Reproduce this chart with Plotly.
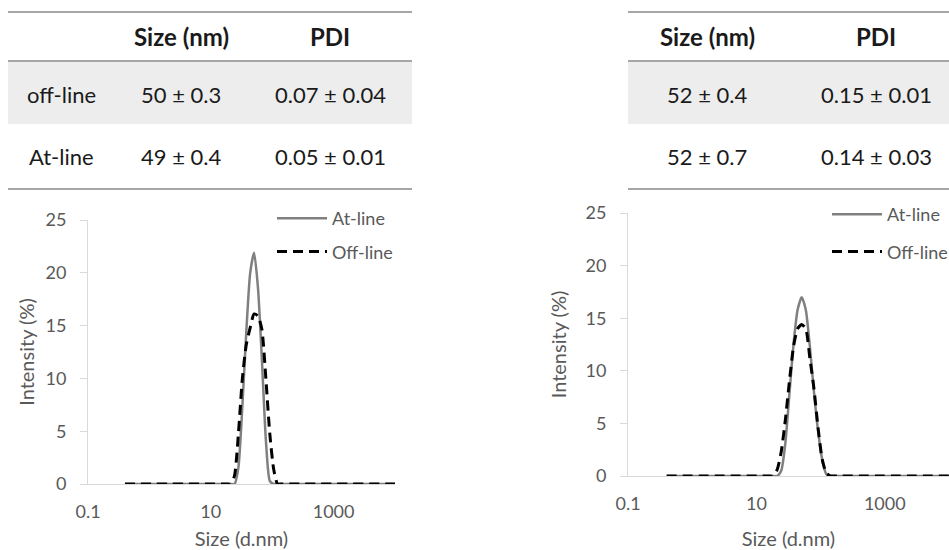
import plotly.graph_objects as go

# ---------------- data ----------------
sizes_nm = [0.4, 0.4632, 0.5365, 0.6213, 0.7195, 0.8332, 0.9649, 1.117, 1.294, 1.499,
            1.736, 2.010, 2.328, 2.696, 3.122, 3.615, 4.187, 4.849, 5.615, 6.503,
            7.531, 8.721, 10.10, 11.70, 13.54, 15.69, 18.17, 21.04, 24.36, 28.21,
            32.67, 37.84, 43.82, 50.75, 58.77, 68.06, 78.82, 91.28, 105.7, 122.4,
            141.8, 164.2, 190.1, 220.2, 255.0, 295.3, 342.0, 396.1, 458.7, 531.2,
            615.1, 712.4, 825.0, 955.4, 1106, 1281, 1484, 1718, 1990, 2305,
            2669, 3091, 3580, 4145, 4801, 5560, 6439, 7456, 8635, 10000]

# intensities (%) per size bin; zero outside the peak
Z = [0.0] * 26
TAIL = [0.0] * 30

left_at_line  = Z + [0.0, 0.0, 0.0, 1.6, 7.4, 14.4, 20.0, 21.9, 18.5, 11.7, 4.2, 0.3, 0.0, 0.0] + TAIL
left_off_line = Z + [0.0, 0.0, 0.8, 4.8, 10.0, 13.2, 14.8, 16.1, 15.9, 14.6, 10.0, 4.8, 1.4, 0.0] + TAIL
right_at_line  = Z + [0.0, 0.0, 0.5, 3.1, 7.8, 12.5, 15.8, 17.0, 15.8, 12.3, 8.0, 4.3, 1.6, 0.2] + TAIL
right_off_line = Z + [0.0, 0.6, 2.3, 5.3, 9.0, 12.3, 14.0, 14.4, 14.0, 11.2, 8.3, 4.6, 1.6, 0.3] + TAIL

table_headers = ["", "Size (nm)", "PDI"]
left_rows = [["off-line", "50 ± 0.3", "0.07 ± 0.04"],
             ["At-line", "49 ± 0.4", "0.05 ± 0.01"]]
right_rows = [["52 ± 0.4", "0.15 ± 0.01"],
              ["52 ± 0.7", "0.14 ± 0.03"]]

series_names = ["At-line", "Off-line"]
x_ticks = [0.1, 10, 1000]
x_tick_text = ["0.1", "10", "1000"]

# ---------------- layout helpers ----------------
W, H = 949, 550
FONT = "Lato, 'Open Sans', sans-serif"
AXIS_GREY = "#d9d9d9"
TXT_GREY = "#595959"


def px(x):
    return x / W


def py(y):
    return 1 - y / H


fig = go.Figure()

at_style = dict(color="#808080", width=2.5)
off_style = dict(color="#000000", width=3, dash="10px,6px")

fig.add_trace(go.Scatter(x=sizes_nm, y=left_at_line, name=series_names[0], mode="lines",
                         line=dict(shape="spline", smoothing=0.6, **at_style),
                         xaxis="x", yaxis="y", legend="legend", legendgroup="a"))
fig.add_trace(go.Scatter(x=sizes_nm, y=left_off_line, name=series_names[1], mode="lines",
                         line=dict(shape="spline", smoothing=0.6, **off_style),
                         xaxis="x", yaxis="y", legend="legend", legendgroup="b"))
fig.add_trace(go.Scatter(x=sizes_nm, y=right_at_line, name=series_names[0], mode="lines",
                         line=dict(shape="spline", smoothing=0.6, **at_style),
                         xaxis="x2", yaxis="y2", legend="legend2", legendgroup="c"))
fig.add_trace(go.Scatter(x=sizes_nm, y=right_off_line, name=series_names[1], mode="lines",
                         line=dict(shape="spline", smoothing=0.6, **off_style),
                         xaxis="x2", yaxis="y2", legend="legend2", legendgroup="d"))

xaxis_common = dict(type="log", range=[-1, 4], tickvals=x_ticks, ticktext=x_tick_text,
                    showgrid=False, zeroline=False, showline=True, linecolor=AXIS_GREY,
                    linewidth=1, ticks="", tickfont=dict(size=18, color=TXT_GREY, family=FONT),
                    ticklabelstandoff=11, automargin=False,
                    title=dict(text="Size (d.nm)", font=dict(size=20, color=TXT_GREY, family=FONT)))
yaxis_common = dict(range=[0, 25], dtick=5, showgrid=False, zeroline=False, showline=True,
                    linecolor=AXIS_GREY, linewidth=1, ticks="outside", ticklen=7,
                    tickcolor=AXIS_GREY, tickfont=dict(size=18, color=TXT_GREY, family=FONT),
                    ticklabelstandoff=10, automargin=False,
                    title=dict(text="Intensity (%)", font=dict(size=20, color=TXT_GREY, family=FONT)))

fig.update_layout(
    width=W, height=H, margin=dict(l=0, r=0, t=0, b=0, pad=0, autoexpand=False),
    paper_bgcolor="white", plot_bgcolor="white",
    font=dict(family=FONT, color=TXT_GREY),
    xaxis=dict(domain=[px(88), px(395)], anchor="y", **xaxis_common),
    yaxis=dict(domain=[py(484), py(220)], anchor="x", **yaxis_common),
    xaxis2=dict(domain=[px(628), 1.0], anchor="y2", **xaxis_common),
    yaxis2=dict(domain=[py(476), py(213)], anchor="x2", **yaxis_common),
    legend=dict(x=px(272), y=py(200), xanchor="left", yanchor="top", bgcolor="rgba(0,0,0,0)",
                font=dict(size=18, color=TXT_GREY, family=FONT), itemwidth=50, tracegroupgap=7),
    legend2=dict(x=px(827), y=py(196), xanchor="left", yanchor="top", bgcolor="rgba(0,0,0,0)",
                 font=dict(size=18, color=TXT_GREY, family=FONT), itemwidth=50, tracegroupgap=11),
    showlegend=True,
)
fig.layout.xaxis.title.standoff = 25
fig.layout.xaxis2.title.standoff = 27
fig.layout.yaxis.title.standoff = 5
fig.layout.yaxis2.title.standoff = 13

# ---------------- tables ----------------
RULE = "#a6a6a6"
BAND = "#ededed"
shapes = []
annotations = []


def table(x0, x1, col_x, header, rows):
    shapes.append(dict(type="rect", xref="paper", yref="paper", x0=px(x0), x1=px(x1),
                       y0=py(124), y1=py(61), fillcolor=BAND, line=dict(width=0), layer="below"))
    for yy in (12, 61, 189):
        shapes.append(dict(type="line", xref="paper", yref="paper", x0=px(x0), x1=px(x1),
                           y0=py(yy), y1=py(yy), line=dict(color=RULE, width=2)))
    for cx, txt in zip(col_x, header):
        if txt:
            annotations.append(dict(xref="paper", yref="paper", x=px(cx), y=py(37), text="<b>%s</b>" % txt,
                                    showarrow=False, xanchor="center", yanchor="middle",
                                    font=dict(size=24, color="#1a1a1a", family=FONT)))
    for ry, row in zip((94, 157), rows):
        for cx, txt in zip(col_x[-len(row):], row):
            annotations.append(dict(xref="paper", yref="paper", x=px(cx), y=py(ry), text=txt,
                                    showarrow=False, xanchor="center", yanchor="middle",
                                    font=dict(size=22, color="#1a1a1a", family=FONT)))


table(8, 412, [61, 181, 330], table_headers, left_rows)
table(628, 949, [707, 876], table_headers[1:], right_rows)

fig.update_layout(shapes=shapes, annotations=annotations)

fig.write_html("out.html")
